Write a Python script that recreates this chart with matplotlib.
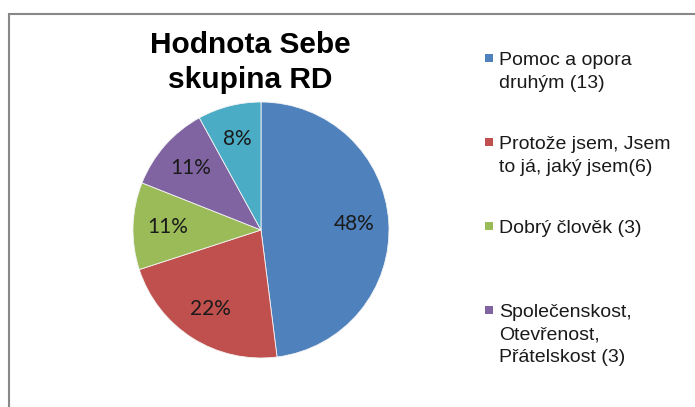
import matplotlib
matplotlib.use("Agg")
import matplotlib.pyplot as plt
from matplotlib.patches import Rectangle

# data (percent shares shown on the slices)
shares = [48, 22, 11, 11, 8]
colors = ["#4F81BD", "#C0504D", "#9BBB59", "#8064A2", "#4BACC6"]
title_lines = ["Hodnota Sebe", "skupina RD"]
# only the first four legend entries fit inside the chart area
legend_labels = [
    "Pomoc a opora\ndruhým (13)",
    "Protože jsem, Jsem\nto já, jaký jsem(6)",
    "Dobrý člověk (3)",
    "Společenskost,\nOtevřenost,\nPřátelskost (3)",
]

W, H = 695, 407
fig = plt.figure(figsize=(W / 100, H / 100), dpi=100)

def fx(px):
    return px / W

def fy(py):
    return 1 - py / H

# chart area frame (cut off on the right and bottom)
fig.add_artist(Rectangle((fx(9), -0.1), 1.2, fy(14) + 0.1, transform=fig.transFigure,
                         fill=False, edgecolor="#888888", linewidth=1.5))

# pie
cx, cy, r = 261, 230, 128
ax = fig.add_axes([fx(cx - r), fy(cy + r), 2 * r / W, 2 * r / H])
wedges, texts, autotexts = ax.pie(
    shares, colors=colors, startangle=90, counterclock=False,
    autopct="%.0f%%", pctdistance=0.73,
    wedgeprops=dict(edgecolor="#f4f4f4", linewidth=0.6),
    textprops=dict(family="Lato", fontsize=15, color="#1a1a1a"))
ax.set_xlim(-1, 1)
ax.set_ylim(-1, 1)
ax.set_aspect("equal")
ax.axis("off")

# title
for i, line in enumerate(title_lines):
    fig.text(fx(250), fy(53 + 35 * i), line, ha="center", va="baseline",
             fontsize=21.5, fontweight="bold", family="Liberation Sans")

# legend
for i, lab in enumerate(legend_labels):
    yc = 58 + 84 * i
    fig.add_artist(Rectangle((fx(485), fy(yc + 4)), 8 / W, 8 / H,
                             transform=fig.transFigure, facecolor=colors[i],
                             edgecolor="none"))
    for k, line in enumerate(lab.split("\n")):
        fig.text(fx(499), fy(yc + 7 + 22.5 * k), line, ha="left", va="baseline",
                 fontsize=14, family="Liberation Sans", color="#1a1a1a")

fig.savefig("out.png", dpi=100)
